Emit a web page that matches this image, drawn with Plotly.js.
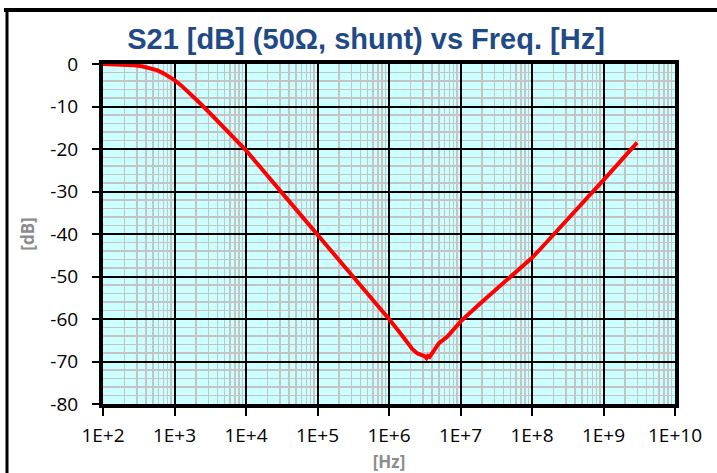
<!DOCTYPE html>
<html>
<head>
<meta charset="utf-8">
<script src="https://cdn.plot.ly/plotly-3.0.1.min.js"></script>
<style>
html,body{margin:0;padding:0;background:#fff;}
#chart{width:717px;height:473px;}
</style>
</head>
<body>
<div id="chart"></div>
<script>
// Frequency points [Hz] and S21 [dB]
const freqHz = [100, 150, 200, 270, 350, 460, 580, 700, 850, 1000, 1250, 1500, 1900, 2300, 2900, 3500,
  5000, 7000, 10000, 30000, 100000, 320000, 1000000, 1450000, 1700000, 1900000, 2100000, 2500000,
  2900000, 3200000, 3350000, 3500000, 3700000, 4000000, 4300000, 4600000, 5000000, 6500000,
  10300000, 19000000, 36000000, 56000000, 100000000, 140000000, 190000000, 770000000, 1000000000, 2950000000];
const s21dB = [0, -0.05, -0.15, -0.3, -0.55, -1.0, -1.5, -2.2, -3.0, -3.8, -5.1, -6.3, -7.9, -9.3, -11.0, -12.4,
  -15.1, -17.5, -20.3, -29.8, -40.1, -50.0, -60.0, -63.4, -64.9, -66.3, -67.0, -68.1,
  -68.5, -68.8, -69.2, -68.7, -68.9, -68.1, -67.0, -66.4, -65.7, -64.2,
  -60.4, -56.3, -52.2, -49.3, -45.6, -43.0, -40.5, -29.4, -27.3, -18.5];
const xTickVals = [1e2, 1e3, 1e4, 1e5, 1e6, 1e7, 1e8, 1e9, 1e10];
const xTickText = ["1E+2", "1E+3", "1E+4", "1E+5", "1E+6", "1E+7", "1E+8", "1E+9", "1E+10"];
const yTickVals = [0, -10, -20, -30, -40, -50, -60, -70, -80];
const yTickText = ["0", "-10", "-20", "-30", "-40", "-50", "-60", "-70", "-80"];
const chartTitle = "S21 [dB] (50Ω, shunt) vs Freq. [Hz]";

const trace = {
  x: freqHz, y: s21dB, type: 'scatter', mode: 'lines',
  line: {color: '#ff0000', width: 4, shape: 'linear'},
  hoverinfo: 'skip', showlegend: false
};

const W = 717, H = 473, L = 103, R = 675, T = 64, B = 404;
function px(x){ return (x - L) / (R - L); }
function py(y){ return (B - y) / (B - T); }

const layout = {
  width: W, height: H,
  margin: {l: L, r: W - R, t: T, b: H - B, pad: 0},
  paper_bgcolor: '#ffffff',
  plot_bgcolor: '#ccffff',
  font: {family: '"Open Sans", "Liberation Sans", sans-serif', color: '#000'},
  title: {
    text: '<b>' + chartTitle + '</b>',
    font: {family: '"Liberation Sans", Arial, sans-serif', size: 29, color: '#1f4a86'},
    x: 366 / W, xref: 'container', xanchor: 'center',
    y: 1 - 39 / H, yref: 'container', yanchor: 'middle'
  },
  xaxis: {
    type: 'log', range: [2, 10],
    tickmode: 'array', tickvals: xTickVals, ticktext: xTickText,
    tickfont: {size: 19, color: '#000'},
    ticks: 'outside', ticklen: 8, tickwidth: 2, tickcolor: '#000',
    ticklabelstandoff: 3,
    showline: true, linecolor: '#000', linewidth: 4, mirror: true,
    showgrid: true, gridcolor: '#000', gridwidth: 2,
    zeroline: false,
    minor: {showgrid: true, gridcolor: '#c4c4c4', gridwidth: 1.5, dtick: 'D1', ticks: ''},
    title: {text: '<b>[Hz]</b>', font: {size: 17, color: '#8c8c8c'}, standoff: 10},
    layer: 'above traces'
  },
  yaxis: {
    range: [-80, 0],
    tickmode: 'array', tickvals: yTickVals, ticktext: yTickText,
    tickfont: {size: 19, color: '#000'},
    ticks: 'outside', ticklen: 7, tickwidth: 2, tickcolor: '#000',
    ticklabelstandoff: 10,
    showline: true, linecolor: '#000', linewidth: 4, mirror: true,
    showgrid: true, gridcolor: '#000', gridwidth: 2,
    zeroline: false,
    minor: {showgrid: true, gridcolor: '#c4c4c4', gridwidth: 1.5, dtick: 2, ticks: ''},
    title: {text: '<b>[dB]</b>', font: {size: 17, color: '#8c8c8c'}, standoff: 12},
    layer: 'below traces'
  },
  shapes: [
    {type: 'line', xref: 'paper', yref: 'paper', x0: px(4), x1: px(720), y0: py(10), y1: py(10),
     line: {color: '#000', width: 4}},
    {type: 'line', xref: 'paper', yref: 'paper', x0: px(7), x1: px(7), y0: py(9), y1: py(480),
     line: {color: '#000', width: 3}}
  ]
};

Plotly.newPlot('chart', [trace], layout, {staticPlot: true, displayModeBar: false});
</script>
</body>
</html>
